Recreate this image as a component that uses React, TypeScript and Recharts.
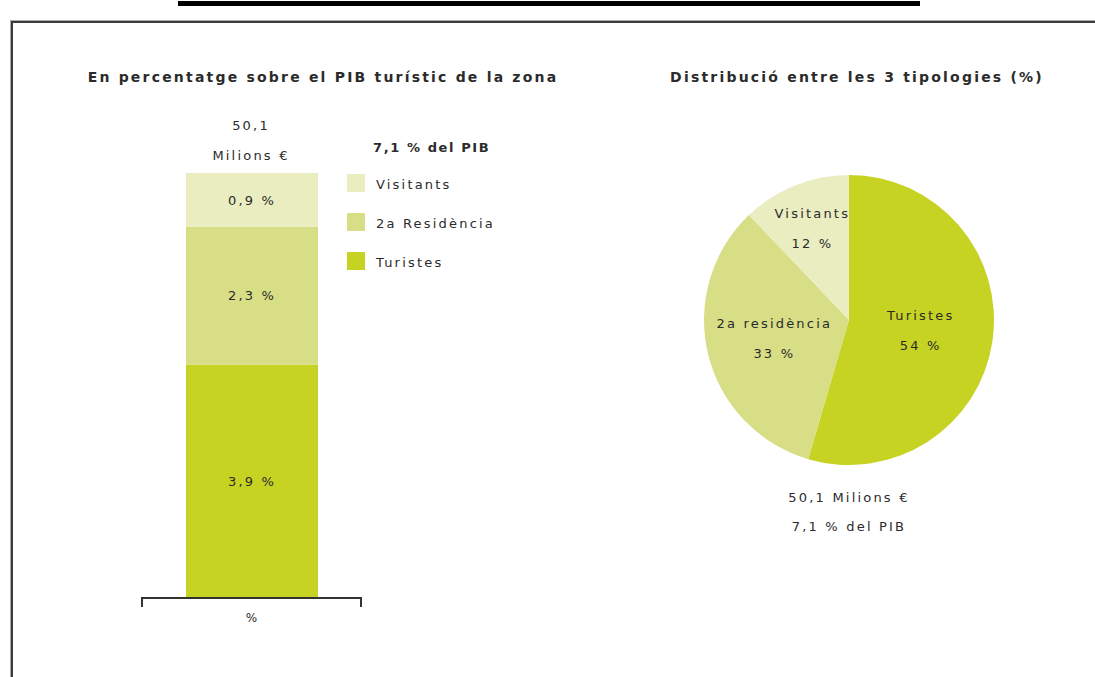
import React from 'react';
import { BarChart, Bar, XAxis, YAxis, LabelList, PieChart, Pie, Cell } from 'recharts';

const categories = ['%'];
const turistesPib = [3.9];
const residenciaPib = [2.3];
const visitantsPib = [0.9];

const pieNames = ['Turistes', '2a residència', 'Visitants'];
const pieValues = [54, 33, 12];

const legendNames = ['Visitants', '2a Residència', 'Turistes'];

const GREEN = '#c6d322';
const MID = '#d8de85';
const PALE = '#e9edc0';
const pieColors = [GREEN, MID, PALE];
const legendColors = [PALE, MID, GREEN];
const labelRadius = [0.5, 0.53, 0.68];

const FONT = '"DejaVu Sans", Verdana, sans-serif';
const TEXT = '#2b2b2b';
const SPACING = 2.2;

const barData = categories.map((c, i) => ({
  cat: c,
  turistes: turistesPib[i],
  residencia: residenciaPib[i],
  visitants: visitantsPib[i],
}));

const pieData = pieNames.map((n, i) => ({ name: n, value: pieValues[i] }));

const fmt = (v: any) => `${String(v).replace('.', ',')} %`;

const txt: React.CSSProperties = {
  position: 'absolute',
  fontFamily: FONT,
  fontSize: 13,
  color: TEXT,
  letterSpacing: SPACING,
  whiteSpace: 'nowrap',
  transform: 'translate(-50%, -50%)',
};

const title: React.CSSProperties = { ...txt, fontWeight: 'bold', fontSize: 14, letterSpacing: 2.2 };

const RAD = Math.PI / 180;

// category label plus the end ticks of the single band
function FrameTick(props: any) {
  const { x, y, width, payload } = props;
  const half = (width || 0) / 2;
  const top = y - 8;
  return (
    <g>
      <line x1={x - half + 1} y1={top} x2={x - half + 1} y2={top + 9} stroke="#333" strokeWidth={2} />
      <line x1={x + half - 1} y1={top} x2={x + half - 1} y2={top + 9} stroke="#333" strokeWidth={2} />
      <text x={x} y={y + 16} textAnchor="middle" fontFamily={FONT} fontSize={12} fill={TEXT}>
        {payload.value}
      </text>
    </g>
  );
}

function PieLabel(props: any) {
  const { cx, cy, midAngle, outerRadius, index, name, value } = props;
  const r = outerRadius * labelRadius[index];
  const x = cx + r * Math.cos(-midAngle * RAD);
  const y = cy + r * Math.sin(-midAngle * RAD);
  return (
    <text x={x} y={y} textAnchor="middle" fontFamily={FONT} fontSize={13} fill={TEXT} letterSpacing={SPACING}>
      <tspan x={x} dy={-10}>{name}</tspan>
      <tspan x={x} dy={30}>{`${value} %`}</tspan>
    </text>
  );
}

export default function App() {
  return (
    <div style={{ position: 'absolute', left: 0, top: 0, width: 1095, height: 677, overflow: 'hidden', background: '#fff' }}>
      <div style={{ position: 'absolute', left: 178, top: 1, width: 742, height: 5, background: '#000' }} />
      <div
        style={{
          position: 'absolute',
          left: 11,
          top: 21,
          width: 1200,
          height: 800,
          borderLeft: '2px solid #3a3a3a',
          borderTop: '2px solid #3a3a3a',
          boxShadow: '-1px -1px 0 #aaa',
        }}
      />

      <div style={{ ...title, left: 323, top: 77 }}>En percentatge sobre el PIB turístic de la zona</div>
      <div style={{ ...title, left: 857, top: 77 }}>Distribució entre les 3 tipologies (%)</div>

      <div style={{ ...txt, left: 251, top: 125 }}>50,1</div>
      <div style={{ ...txt, left: 251, top: 155 }}>Milions €</div>
      <div style={{ ...txt, left: 373, top: 147, transform: 'translate(0, -50%)', fontWeight: 'bold', letterSpacing: 1.6 }}>
        7,1 % del PIB
      </div>

      <div style={{ position: 'absolute', left: 0, top: 0 }}>
        <BarChart width={560} height={677} data={barData} margin={{ top: 173, right: 198, bottom: 49, left: 141 }}>
          <XAxis
            dataKey="cat"
            height={30}
            axisLine={{ stroke: '#333', strokeWidth: 2 }}
            tickLine={false}
            tick={<FrameTick />}
            interval={0}
          />
          <YAxis hide domain={[0, 7.1]} />
          <Bar dataKey="turistes" stackId="a" fill={GREEN} barSize={132} isAnimationActive={false}>
            <LabelList dataKey="turistes" position="center" formatter={fmt} fill={TEXT} fontFamily={FONT} fontSize={13} letterSpacing={SPACING} />
          </Bar>
          <Bar dataKey="residencia" stackId="a" fill={MID} barSize={132} isAnimationActive={false}>
            <LabelList dataKey="residencia" position="center" formatter={fmt} fill={TEXT} fontFamily={FONT} fontSize={13} letterSpacing={SPACING} />
          </Bar>
          <Bar dataKey="visitants" stackId="a" fill={PALE} barSize={132} isAnimationActive={false}>
            <LabelList dataKey="visitants" position="center" formatter={fmt} fill={TEXT} fontFamily={FONT} fontSize={13} letterSpacing={SPACING} />
          </Bar>
        </BarChart>
      </div>

      {legendNames.map((n, i) => (
        <div key={n}>
          <div style={{ position: 'absolute', left: 347, top: 174 + i * 39, width: 18, height: 18, background: legendColors[i] }} />
          <div style={{ ...txt, left: 376, top: 184 + i * 39, transform: 'translate(0, -50%)' }}>{n}</div>
        </div>
      ))}

      <div style={{ position: 'absolute', left: 600, top: 60 }}>
        <PieChart width={495} height={520}>
          <Pie
            data={pieData}
            dataKey="value"
            nameKey="name"
            cx={244}
            cy={255}
            outerRadius={145}
            startAngle={90}
            endAngle={-270}
            stroke="none"
            labelLine={false}
            label={PieLabel}
            isAnimationActive={false}
          >
            {pieData.map((d, i) => (
              <Cell key={d.name} fill={pieColors[i]} />
            ))}
          </Pie>
        </PieChart>
      </div>

      <div style={{ ...txt, left: 849, top: 497 }}>50,1 Milions €</div>
      <div style={{ ...txt, left: 849, top: 526 }}>7,1 % del PIB</div>
    </div>
  );
}
